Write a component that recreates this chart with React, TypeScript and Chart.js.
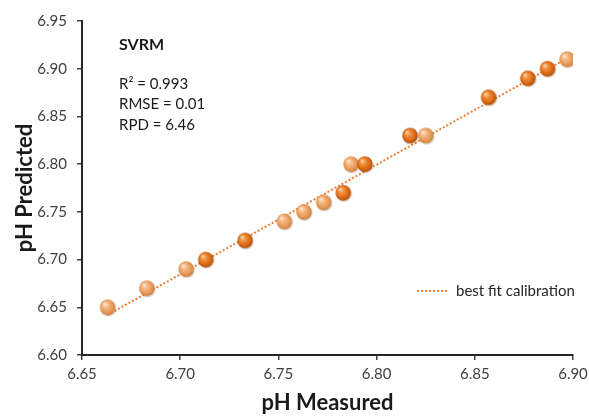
import React, { useEffect, useRef } from "react";
import { Chart, registerables } from "chart.js";
Chart.register(...registerables);

const measured = [6.663, 6.683, 6.703, 6.713, 6.733, 6.753, 6.763, 6.773, 6.783, 6.787, 6.794, 6.817, 6.825, 6.857, 6.877, 6.887, 6.897];
const predicted = [6.65, 6.67, 6.69, 6.70, 6.72, 6.74, 6.75, 6.76, 6.77, 6.80, 6.80, 6.83, 6.83, 6.87, 6.89, 6.90, 6.91];
const shades = ["light", "light", "light", "dark", "dark", "light", "light", "light", "dark", "light", "dark", "dark", "light", "dark", "dark", "dark", "light"];
const fitX = [6.663, 6.898];
const fitY = [6.642, 6.912];
const title = "SVRM";
const statLines = ["R² = 0.993", "RMSE = 0.01", "RPD = 6.46"];
const legendLabel = "best fit calibration";
const xTitle = "pH Measured";
const yTitle = "pH Predicted";

function makeSphere(dark: boolean): HTMLCanvasElement {
  const c = document.createElement("canvas");
  c.width = 20;
  c.height = 20;
  const g = c.getContext("2d")!;
  g.beginPath();
  g.arc(10.8, 11, 8, 0, Math.PI * 2);
  g.fillStyle = "rgba(120,70,30,0.25)";
  g.fill();
  const grad = g.createRadialGradient(7, 6.5, 0.5, 10, 10, 8.2);
  if (dark) {
    grad.addColorStop(0, "#FBD2A8");
    grad.addColorStop(0.3, "#F0923E");
    grad.addColorStop(0.75, "#D9650F");
    grad.addColorStop(1, "#9A4507");
  } else {
    grad.addColorStop(0, "#FCE6D2");
    grad.addColorStop(0.35, "#F5B57E");
    grad.addColorStop(0.8, "#E39350");
    grad.addColorStop(1, "#B8712F");
  }
  g.beginPath();
  g.arc(10, 10, 7.7, 0, Math.PI * 2);
  g.fillStyle = grad;
  g.fill();
  return c;
}

const overlayPlugin = {
  id: "overlay",
  afterDraw(chart: any) {
    const ctx = chart.ctx as CanvasRenderingContext2D;
    ctx.save();
    ctx.fillStyle = "#1a1a1a";
    ctx.textBaseline = "middle";
    ctx.textAlign = "left";
    ctx.font = "bold 16px Lato";
    ctx.fillText(title, 119, 45);
    ctx.font = "15px Lato";
    statLines.forEach((t, i) => ctx.fillText(t, 119, 84 + i * 20.5));
    ctx.strokeStyle = "#ED7D31";
    ctx.lineWidth = 2;
    ctx.setLineDash([2, 2]);
    ctx.beginPath();
    ctx.moveTo(417, 291);
    ctx.lineTo(448, 291);
    ctx.stroke();
    ctx.setLineDash([]);
    ctx.fillStyle = "#262626";
    ctx.font = "15px Lato";
    ctx.fillText(legendLabel, 456, 291);
    ctx.restore();
  },
};

export default function App() {
  const ref = useRef<HTMLCanvasElement>(null);
  useEffect(() => {
    document.body.style.margin = "0";
    const light = makeSphere(false);
    const dark = makeSphere(true);
    const styles = shades.map((s) => (s === "dark" ? dark : light));
    const chart = new Chart(ref.current!, {
      type: "scatter",
      data: {
        datasets: [
          {
            label: "data",
            data: measured.map((x, i) => ({ x, y: predicted[i] })),
            pointStyle: styles as any,
            pointRadius: 8,
            showLine: false,
          },
          {
            label: legendLabel,
            data: fitX.map((x, i) => ({ x, y: fitY[i] })),
            showLine: true,
            borderColor: "#ED7D31",
            borderWidth: 2,
            borderDash: [2, 2],
            pointRadius: 0,
            fill: false,
          },
        ],
      },
      options: {
        animation: false,
        responsive: false,
        events: [],
        layout: { padding: { top: 21, right: 16, left: 0, bottom: 0 } },
        plugins: { legend: { display: false }, tooltip: { enabled: false } },
        scales: {
          x: {
            type: "linear",
            min: 6.65,
            max: 6.9,
            ticks: {
              stepSize: 0.05,
              color: "#404040",
              font: { family: "Lato", size: 15 },
              padding: 5,
              callback: (v: any) => Number(v).toFixed(2),
            },
            grid: { drawOnChartArea: false, tickLength: 5, color: "#404040", lineWidth: 1.5 },
            border: { color: "#262626", width: 2 },
            title: {
              display: true,
              text: xTitle,
              color: "#1a1a1a",
              font: { family: "Lato", size: 22, weight: "bold" },
              padding: { top: 0, bottom: 0 },
            },
            afterFit: (s: any) => {
              s.height = 61;
              s.paddingLeft = 0;
              s.paddingRight = 0;
            },
          },
          y: {
            type: "linear",
            min: 6.6,
            max: 6.95,
            ticks: {
              stepSize: 0.05,
              color: "#404040",
              font: { family: "Lato", size: 15 },
              padding: 10,
              callback: (v: any) => Number(v).toFixed(2),
            },
            grid: { drawOnChartArea: false, tickLength: 5, color: "#404040", lineWidth: 1.5 },
            border: { color: "#262626", width: 2 },
            title: {
              display: true,
              text: yTitle,
              color: "#1a1a1a",
              font: { family: "Lato", size: 22, weight: "bold" },
              padding: { top: 12, bottom: 0 },
            },
            afterFit: (s: any) => {
              s.width = 82;
              s.paddingTop = 0;
              s.paddingBottom = 0;
            },
          },
        },
      },
      plugins: [overlayPlugin],
    });
    return () => chart.destroy();
  }, []);
  return (
    <div style={{ width: 589, height: 416, background: "#fff" }}>
      <canvas ref={ref} width={589} height={416} />
    </div>
  );
}
